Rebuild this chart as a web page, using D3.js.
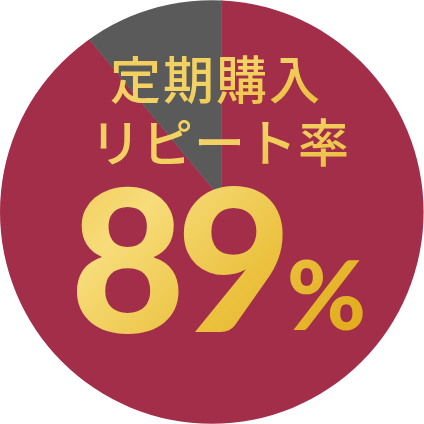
<!DOCTYPE html>
<html>
<head>
<meta charset="utf-8">
<script src="https://cdn.jsdelivr.net/npm/d3@7"></script>
<style>
  html, body { margin: 0; padding: 0; background: #fff; }
  svg { display: block; }
</style>
</head>
<body>
<svg id="chart"></svg>
<script>
// data for the pie
const labels = ['リピート', 'その他'];
const values = [89, 11];
const colors = ['#a22e4a', '#5a5a5a'];
const titleLines = ['定期購入', 'リピート率'];

function buildChart() {
    const width = 424;
    const height = 424;
    const svg = d3.select('#chart').attr('width', width).attr('height', height);

    const defs = svg.append('defs');

    // the disc that holds the pie
    defs.append('clipPath').attr('id', 'disc')
        .append('circle')
        .attr('cx', 211.8).attr('cy', 212).attr('r', 211.8);

    // gold for the title lines
    const g1 = defs.append('linearGradient').attr('id', 'goldTitle')
        .attr('x1', 0).attr('y1', 0).attr('x2', 1).attr('y2', 1);
    g1.append('stop').attr('offset', 0).attr('stop-color', '#f1cc58');
    g1.append('stop').attr('offset', 0.5).attr('stop-color', '#f3d265');
    g1.append('stop').attr('offset', 1).attr('stop-color', '#e8bb36');

    // gold for the big number
    const g2 = defs.append('linearGradient').attr('id', 'goldNum')
        .attr('x1', 0).attr('y1', 0.1).attr('x2', 1).attr('y2', 0.9);
    g2.append('stop').attr('offset', 0).attr('stop-color', '#f0c954');
    g2.append('stop').attr('offset', 0.25).attr('stop-color', '#f7dc7a');
    g2.append('stop').attr('offset', 0.6).attr('stop-color', '#ebc240');
    g2.append('stop').attr('offset', 1).attr('stop-color', '#e0a816');

    // pie, ending at 12 o'clock with the small slice
    const pie = d3.pie().sort(null);
    const arc = d3.arc().innerRadius(0).outerRadius(260);

    const pieGroup = svg.append('g')
        .attr('clip-path', 'url(#disc)')
        .append('g')
        .attr('transform', 'translate(221.3,199)');

    pieGroup.selectAll('path')
        .data(pie(values))
        .enter()
        .append('path')
        .attr('d', arc)
        .attr('fill', (d, i) => colors[i])
        .attr('stroke', (d, i) => colors[i])
        .attr('stroke-width', 0.5);

    // title lines
    const title = svg.append('g')
        .attr('font-family', '"Noto Sans CJK JP", sans-serif')
        .attr('font-weight', 500)
        .attr('font-size', 51)
        .attr('fill', 'url(#goldTitle)')
        .attr('text-anchor', 'middle');

    title.selectAll('text')
        .data(titleLines)
        .enter()
        .append('text')
        .attr('x', (d, i) => i === 0 ? 216 : 220)
        .attr('y', (d, i) => 99 + i * 63)
        .attr('letter-spacing', (d, i) => i === 0 ? 2 : 1)
        .text(d => d);

    // big number
    const num = svg.append('text')
        .attr('x', 70)
        .attr('y', 332)
        .attr('font-family', 'Lato, sans-serif')
        .attr('font-weight', 900)
        .attr('fill', 'url(#goldNum)');

    num.append('tspan')
        .attr('font-size', 199)
        .attr('letter-spacing', -9)
        .text(values[0]);

    num.append('tspan')
        .attr('font-size', 96)
        .attr('dx', 4)
        .attr('dy', -2)
        .text('%');
}

buildChart();
</script>
</body>
</html>
